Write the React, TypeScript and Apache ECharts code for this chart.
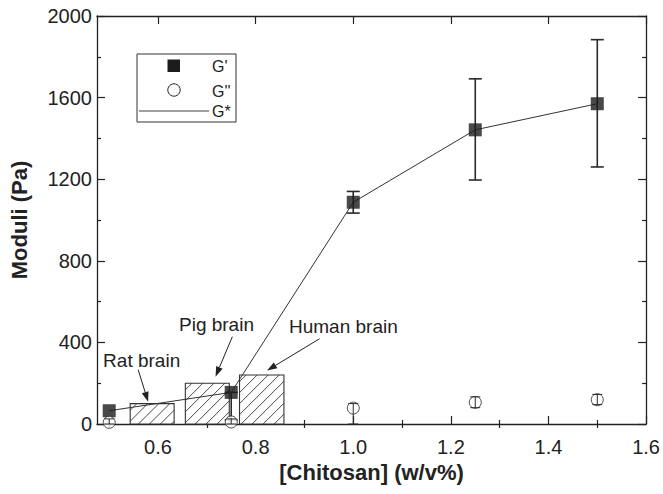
import React, { useEffect, useRef } from 'react';
import * as echarts from 'echarts';

// ---- data ----
const concentrations = [0.5, 0.75, 1.0, 1.25, 1.5];
const gPrime = [65, 155, 1087, 1442, 1570];
const gPrimeLow = [65, 20, 1034, 1196, 1260];
const gPrimeHigh = [65, 155, 1140, 1692, 1884];
const gDoublePrime = [8, 10, 78, 106, 119];
const gDoublePrimeLow = [0, 0, 0, 80, 95];
const gDoublePrimeHigh = [25, 25, 100, 133, 145];

const tissueNames = ['Rat brain', 'Pig brain', 'Human brain'];
const tissueStart = [0.543, 0.656, 0.767];
const tissueEnd = [0.633, 0.746, 0.858];
const tissueModulus = [100, 200, 240];

const xMajorTicks = [0.6, 0.8, 1.0, 1.2, 1.4, 1.6];
const xMinorTicks = [0.5, 0.7, 0.9, 1.1, 1.3, 1.5];

// annotation layout (data coordinates): label centre, arrow tail, arrow tip
const annotationLayout = [
  { label: [0.5665, 310], from: [0.5594, 266], to: [0.5797, 109] },
  { label: [0.7198, 487], from: [0.7523, 428], to: [0.7178, 232] },
  { label: [0.9798, 477], from: [0.931, 418], to: [0.8234, 262] },
];

const X_MIN = 0.475;
const X_MAX = 1.6;
const FONT = "'Liberation Sans', Arial, Helvetica, sans-serif";
const INK = '#222';

export default function App() {
  const ref = useRef<HTMLDivElement>(null);

  useEffect(() => {
    document.body.style.margin = '0';
    if (!ref.current) return;
    const chart = echarts.init(ref.current, null, { renderer: 'svg' });

    const barData = tissueNames.map((n, i) => [tissueStart[i], tissueEnd[i], tissueModulus[i]]);
    const gpData = concentrations.map((x, i) => [x, gPrime[i]]);
    const gppData = concentrations.map((x, i) => [x, gDoublePrime[i]]);
    const gpErr = concentrations.map((x, i) => [x, gPrimeLow[i], gPrimeHigh[i]]);
    const gppErr = concentrations.map((x, i) => [x, gDoublePrimeLow[i], gDoublePrimeHigh[i]]);

    const errRender = (lw: number, hw: number) => (params: any, api: any) => {
      const x = api.value(0);
      const lo = api.value(1);
      const hi = api.value(2);
      if (hi - lo <= 0) return { type: 'group', children: [] };
      const p0 = api.coord([x, lo]);
      const p1 = api.coord([x, hi]);
      const st = { stroke: '#2a2a2a', lineWidth: lw };
      return {
        type: 'group',
        children: [
          { type: 'line', shape: { x1: p0[0], y1: p0[1], x2: p1[0], y2: p1[1] }, style: st },
          { type: 'line', shape: { x1: p0[0] - hw, y1: p0[1], x2: p0[0] + hw, y2: p0[1] }, style: st },
          { type: 'line', shape: { x1: p1[0] - hw, y1: p1[1], x2: p1[0] + hw, y2: p1[1] }, style: st },
        ],
      };
    };

    const axisLine = { show: true, onZero: false, lineStyle: { color: INK, width: 1.3 } };
    const tickStyle = { color: INK, width: 1.2 };

    const option: any = {
      animation: false,
      backgroundColor: '#fff',
      textStyle: { fontFamily: FONT },
      grid: { left: 97, right: 12, top: 16, bottom: 70, containLabel: false },
      xAxis: [
        {
          type: 'value', position: 'bottom', min: X_MIN, max: X_MAX,
          axisLine,
          axisTick: { show: true, inside: true, length: 8, customValues: xMajorTicks, lineStyle: tickStyle },
          axisLabel: {
            customValues: xMajorTicks, formatter: (v: number) => v.toFixed(1),
            fontSize: 20, color: INK, margin: 13, fontFamily: FONT,
          },
          splitLine: { show: false },
          name: '[Chitosan] (w/v%)', nameLocation: 'middle', nameGap: 30,
          nameTextStyle: { fontSize: 22, fontWeight: 'bold', color: INK, fontFamily: FONT },
        },
        {
          type: 'value', position: 'bottom', min: X_MIN, max: X_MAX,
          axisLine: { show: false },
          axisTick: { show: true, inside: true, length: 4, customValues: xMinorTicks, lineStyle: tickStyle },
          axisLabel: { show: false }, splitLine: { show: false },
        },
        {
          type: 'value', position: 'top', min: X_MIN, max: X_MAX,
          axisLine,
          axisTick: { show: true, inside: true, length: 8, customValues: xMajorTicks, lineStyle: tickStyle },
          axisLabel: { show: false }, splitLine: { show: false },
        },
        {
          type: 'value', position: 'top', min: X_MIN, max: X_MAX,
          axisLine: { show: false },
          axisTick: { show: true, inside: true, length: 4, customValues: xMinorTicks, lineStyle: tickStyle },
          axisLabel: { show: false }, splitLine: { show: false },
        },
      ],
      yAxis: [
        {
          type: 'value', position: 'left', min: 0, max: 2000, interval: 400,
          axisLine,
          axisTick: { show: true, inside: true, length: 8, lineStyle: tickStyle },
          minorTick: { show: true, splitNumber: 2, length: 4, lineStyle: tickStyle },
          axisLabel: { fontSize: 20, color: INK, margin: 5, fontFamily: FONT, formatter: (v: number) => String(v) },
          splitLine: { show: false },
          name: 'Moduli (Pa)', nameLocation: 'middle', nameGap: 67, nameRotate: 90,
          nameTextStyle: { fontSize: 22, fontWeight: 'bold', color: INK, fontFamily: FONT },
        },
        {
          type: 'value', position: 'right', min: 0, max: 2000, interval: 400,
          axisLine,
          axisTick: { show: true, inside: true, length: 8, lineStyle: tickStyle },
          minorTick: { show: true, splitNumber: 2, length: 4, lineStyle: tickStyle },
          axisLabel: { show: false }, splitLine: { show: false },
        },
      ],
      series: [
        {
          name: 'tissues', type: 'custom', z: 1, data: barData,
          encode: { x: [0, 1], y: 2 },
          renderItem: (params: any, api: any) => {
            const tl = api.coord([api.value(0), api.value(2)]);
            const br = api.coord([api.value(1), 0]);
            const x0 = tl[0], y0 = tl[1], x1 = br[0], y1 = br[1];
            const children: any[] = [
              { type: 'rect', shape: { x: x0, y: y0, width: x1 - x0, height: y1 - y0 },
                style: { fill: '#fff', stroke: '#333', lineWidth: 1.1 } },
            ];
            const step = 11;
            for (let k = x0 + y0 + step * 0.6; k < x1 + y1; k += step) {
              const xa = Math.max(x0, k - y1);
              const xb = Math.min(x1, k - y0);
              if (xb > xa) {
                children.push({ type: 'line', shape: { x1: xa, y1: k - xa, x2: xb, y2: k - xb },
                  style: { stroke: '#333', lineWidth: 0.9 } });
              }
            }
            return { type: 'group', children };
          },
        },
        {
          name: 'G*', type: 'line', z: 3, data: gpData, symbol: 'none',
          lineStyle: { color: '#333', width: 1 },
        },
        {
          name: "G' err", type: 'custom', z: 4, data: gpErr,
          encode: { x: 0, y: [1, 2] }, renderItem: errRender(1.6, 6.5),
        },
        {
          name: "G'", type: 'scatter', z: 5, data: gpData, symbol: 'rect', symbolSize: 13,
          itemStyle: { color: '#1c1c1c' },
        },
        {
          name: "G''", type: 'scatter', z: 5, data: gppData, symbol: 'circle', symbolSize: 12,
          itemStyle: { color: '#fff', borderColor: '#222', borderWidth: 1 },
        },
        {
          name: "G'' err", type: 'custom', z: 6, data: gppErr,
          encode: { x: 0, y: [1, 2] }, renderItem: errRender(1, 5),
        },
      ],
    };

    chart.setOption(option);

    // legend box (layout only)
    const legend: any[] = [
      { type: 'rect', shape: { x: 137, y: 54, width: 99, height: 68 },
        style: { fill: 'none', stroke: '#333', lineWidth: 1 } },
      { type: 'rect', shape: { x: 167.5, y: 59.5, width: 12.5, height: 12.5 }, style: { fill: '#1c1c1c' } },
      { type: 'circle', shape: { cx: 174, cy: 90, r: 6.2 }, style: { fill: '#fff', stroke: '#222', lineWidth: 1 } },
      { type: 'line', shape: { x1: 139, y1: 111, x2: 209, y2: 111 }, style: { stroke: '#444', lineWidth: 1.2 } },
      { type: 'text', x: 212, y: 66, style: { text: "G'", font: `16px ${FONT}`, fill: INK, verticalAlign: 'middle' } },
      { type: 'text', x: 212, y: 91, style: { text: "G''", font: `16px ${FONT}`, fill: INK, verticalAlign: 'middle' } },
      { type: 'text', x: 212, y: 111, style: { text: 'G*', font: `16px ${FONT}`, fill: INK, verticalAlign: 'middle' } },
    ];

    const notes: any[] = [];
    annotationLayout.forEach((a, i) => {
      const lp = chart.convertToPixel({ gridIndex: 0 }, a.label) as number[];
      const s = chart.convertToPixel({ gridIndex: 0 }, a.from) as number[];
      const t = chart.convertToPixel({ gridIndex: 0 }, a.to) as number[];
      const dx = t[0] - s[0];
      const dy = t[1] - s[1];
      const len = Math.sqrt(dx * dx + dy * dy);
      const ux = dx / len, uy = dy / len;
      const hl = 10, hw = 3.5;
      const bx = t[0] - ux * hl, by = t[1] - uy * hl;
      notes.push({ type: 'text', x: lp[0], y: lp[1], z: 10,
        style: { text: tissueNames[i], font: `19px ${FONT}`, fill: INK, align: 'center', verticalAlign: 'middle' } });
      notes.push({ type: 'line', z: 10, shape: { x1: s[0], y1: s[1], x2: bx, y2: by }, style: { stroke: INK, lineWidth: 1 } });
      notes.push({ type: 'polygon', z: 10,
        shape: { points: [[t[0], t[1]], [bx - uy * hw, by + ux * hw], [bx + uy * hw, by - ux * hw]] },
        style: { fill: INK } });
    });

    chart.setOption({ graphic: [...legend, ...notes] });

    return () => chart.dispose();
  }, []);

  return <div ref={ref} style={{ width: 663, height: 494 }} />;
}
